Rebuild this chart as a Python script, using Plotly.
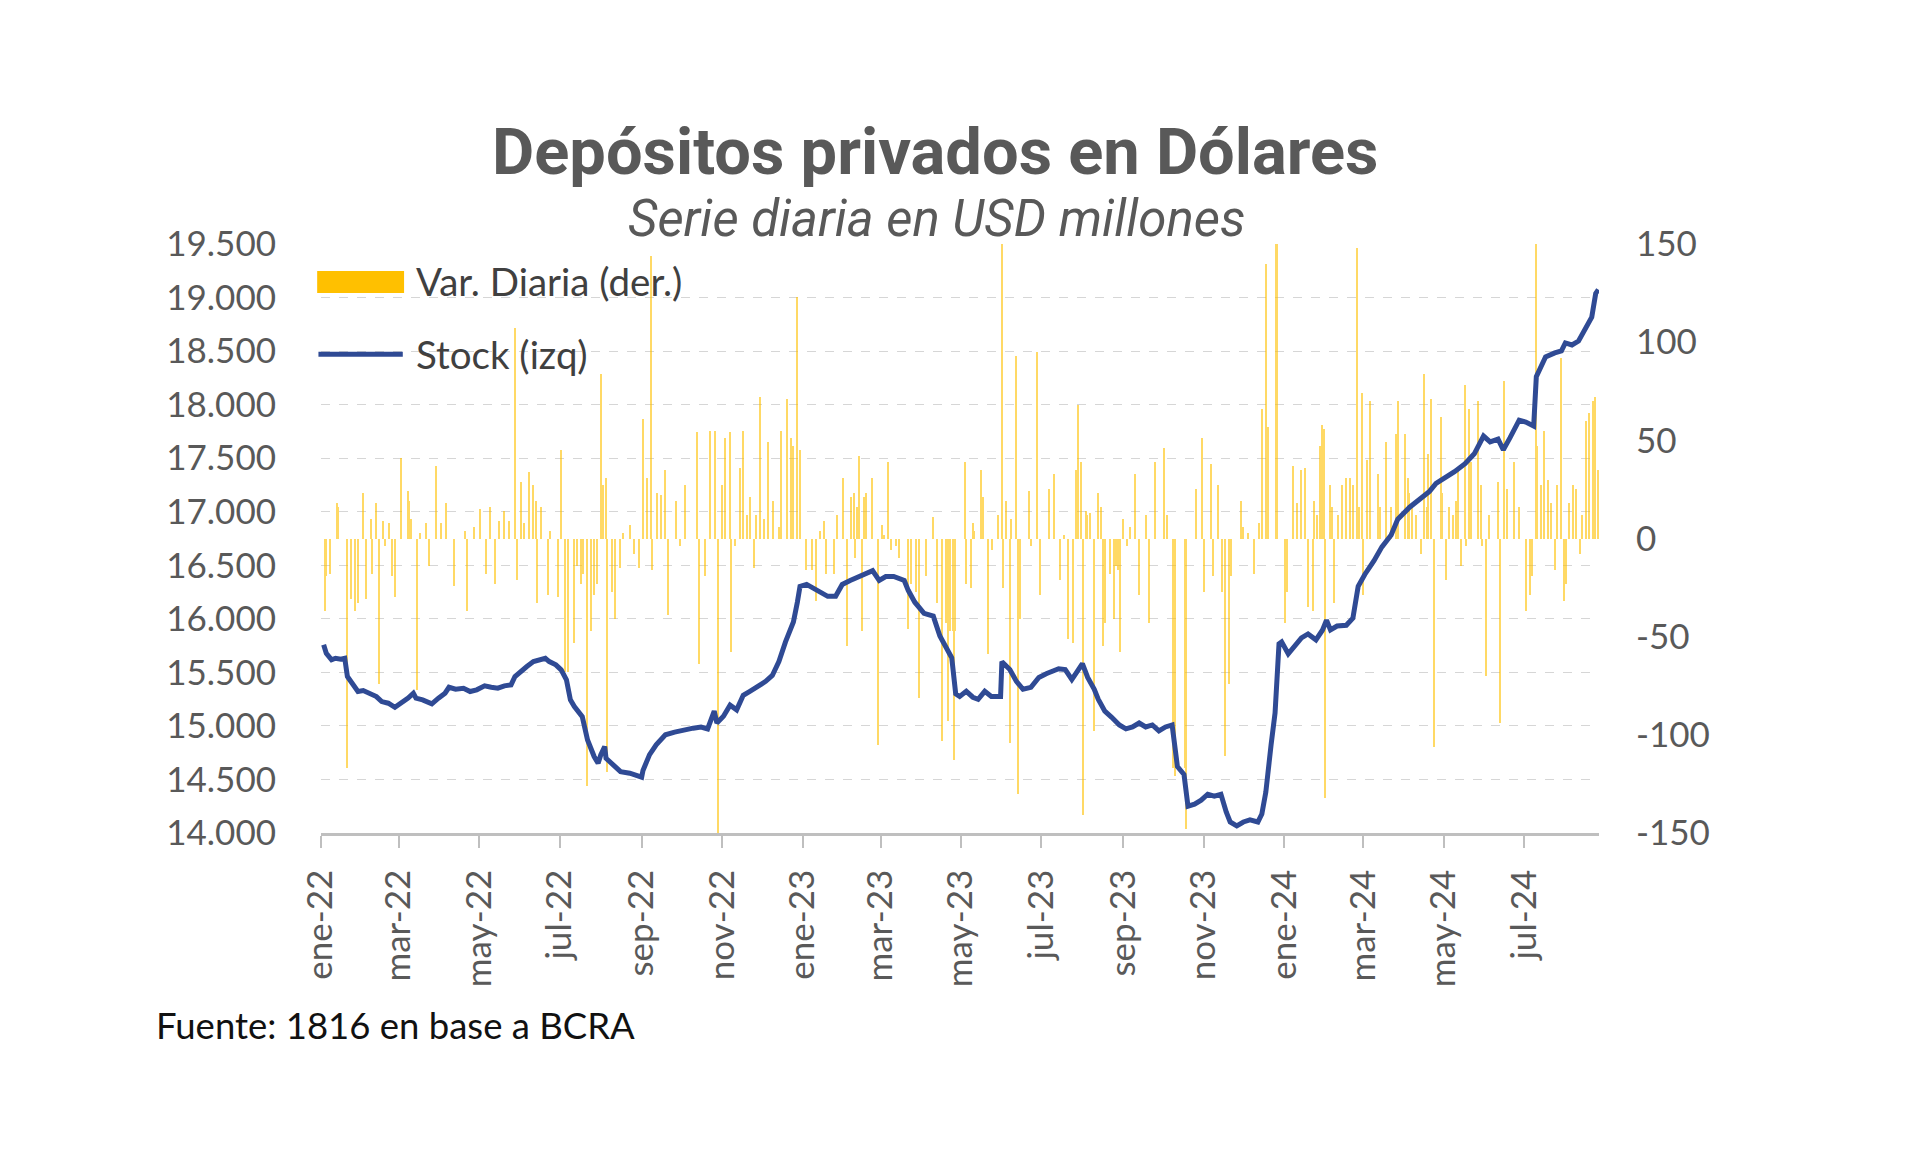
import plotly.graph_objects as go

# ---------------- data ----------------
stock_dates = [
    "2022-01-03","2022-01-05","2022-01-09","2022-01-12","2022-01-16","2022-01-19","2022-01-21","2022-01-25",
    "2022-01-29","2022-02-02","2022-02-07","2022-02-12","2022-02-16","2022-02-21","2022-02-26","2022-03-03",
    "2022-03-08","2022-03-12","2022-03-14","2022-03-19","2022-03-26","2022-03-31","2022-04-05","2022-04-08",
    "2022-04-13","2022-04-19","2022-04-24","2022-04-29","2022-05-05","2022-05-10","2022-05-15","2022-05-20",
    "2022-05-25","2022-05-28","2022-06-01","2022-06-06","2022-06-11","2022-06-16","2022-06-20","2022-06-23",
    "2022-06-28","2022-07-02","2022-07-06","2022-07-09","2022-07-12","2022-07-18","2022-07-22","2022-07-27",
    "2022-07-30","2022-08-01","2022-08-04","2022-08-05","2022-08-10","2022-08-16","2022-08-23","2022-08-29",
    "2022-09-01","2022-09-02","2022-09-07","2022-09-12","2022-09-19","2022-09-26","2022-10-03","2022-10-10",
    "2022-10-16","2022-10-21","2022-10-26","2022-10-28","2022-11-02","2022-11-07","2022-11-12","2022-11-17",
    "2022-11-22","2022-11-29","2022-12-04","2022-12-09","2022-12-14","2022-12-19","2022-12-25","2022-12-28",
    "2022-12-30","2023-01-04","2023-01-09","2023-01-14","2023-01-20","2023-01-26","2023-01-31","2023-02-06",
    "2023-02-13","2023-02-18","2023-02-23","2023-02-28","2023-03-05","2023-03-11","2023-03-19","2023-03-22",
    "2023-03-27","2023-04-03","2023-04-10","2023-04-15","2023-04-20","2023-04-24","2023-04-27","2023-04-30",
    "2023-05-05","2023-05-10","2023-05-14","2023-05-19","2023-05-24","2023-05-31","2023-06-01","2023-06-07",
    "2023-06-12","2023-06-17","2023-06-23","2023-06-29","2023-07-05","2023-07-14","2023-07-19","2023-07-24",
    "2023-07-27","2023-08-01","2023-08-05","2023-08-10","2023-08-13","2023-08-18","2023-08-23","2023-08-29",
    "2023-09-03","2023-09-08","2023-09-13","2023-09-18","2023-09-23","2023-09-28","2023-10-03","2023-10-08",
    "2023-10-12","2023-10-17","2023-10-20","2023-10-25","2023-10-30","2023-11-04","2023-11-09","2023-11-14",
    "2023-11-18","2023-11-21","2023-11-26","2023-12-01","2023-12-06","2023-12-12","2023-12-15","2023-12-18",
    "2023-12-22","2023-12-25","2023-12-28","2023-12-30","2024-01-04","2024-01-09","2024-01-14","2024-01-19",
    "2024-01-25","2024-01-30","2024-02-02","2024-02-05","2024-02-10","2024-02-17","2024-02-22","2024-02-26",
    "2024-03-02","2024-03-09","2024-03-15","2024-03-22","2024-03-27","2024-04-05","2024-04-13","2024-04-20",
    "2024-04-25","2024-04-30","2024-05-09","2024-05-17","2024-05-24","2024-05-31","2024-06-05","2024-06-11",
    "2024-06-15","2024-06-20","2024-06-27","2024-07-02","2024-07-08","2024-07-10","2024-07-17","2024-07-24",
    "2024-07-29","2024-08-01","2024-08-06","2024-08-11","2024-08-16","2024-08-21","2024-08-24","2024-08-26",
]
stock_values = [
    15757, 15679, 15617, 15632, 15623, 15632, 15461, 15399,
    15321, 15330, 15305, 15274, 15227, 15212, 15174, 15212,
    15259, 15305, 15259, 15243, 15206, 15259, 15305, 15361,
    15343, 15352, 15321, 15337, 15374, 15361, 15352, 15374,
    15383, 15461, 15508, 15555, 15601, 15623, 15632, 15601,
    15570, 15523, 15430, 15243, 15181, 15087, 14869, 14714,
    14651, 14729, 14807, 14698, 14636, 14573, 14558, 14527,
    14521, 14584, 14732, 14824, 14917, 14942, 14965, 14979,
    14990, 14972, 15138, 15027, 15090, 15194, 15150, 15286,
    15323, 15379, 15416, 15471, 15600, 15785, 15970, 16155,
    16303, 16321, 16284, 16247, 16210, 16210, 16321, 16358,
    16395, 16413, 16450, 16358, 16395, 16395, 16358, 16266,
    16155, 16051, 16025, 15840, 15730, 15637, 15300, 15275,
    15323, 15268, 15249, 15323, 15275, 15275, 15600, 15526,
    15416, 15342, 15360, 15453, 15489, 15534, 15526, 15434,
    15489, 15582, 15453, 15342, 15249, 15138, 15083, 15009,
    14972, 14990, 15027, 14990, 15009, 14953, 14990, 15009,
    14621, 14547, 14251, 14270, 14307, 14362, 14344, 14362,
    14196, 14103, 14067, 14103, 14122, 14103, 14177, 14381,
    14824, 15120, 15767, 15785, 15674, 15748, 15822, 15859,
    15804, 15896, 15988, 15896, 15933, 15940, 16007, 16303,
    16414, 16543, 16672, 16783, 16931, 17042, 17116, 17190,
    17264, 17301, 17374, 17448, 17541, 17707, 17652, 17678,
    17578, 17689, 17855, 17837, 17800, 18262, 18446, 18483,
    18502, 18576, 18557, 18594, 18705, 18816, 19038, 19075,
]

var_dates = [
    "2022-01-04","2022-01-05","2022-01-08","2022-01-13","2022-01-14","2022-01-21","2022-01-24","2022-01-27",
    "2022-01-29","2022-02-02","2022-02-04","2022-02-08","2022-02-09","2022-02-12","2022-02-14","2022-02-17",
    "2022-02-19","2022-02-22","2022-02-24","2022-02-26","2022-03-03","2022-03-08","2022-03-09","2022-03-10",
    "2022-03-15","2022-03-17","2022-03-22","2022-03-24","2022-03-29","2022-04-02","2022-04-06","2022-04-12",
    "2022-04-20","2022-04-22","2022-04-27","2022-05-02","2022-05-06","2022-05-09","2022-05-13","2022-05-16",
    "2022-05-20","2022-05-24","2022-05-28","2022-05-30","2022-06-02","2022-06-04","2022-06-08","2022-06-11",
    "2022-06-13","2022-06-14","2022-06-17","2022-06-22","2022-06-24","2022-06-30","2022-07-02","2022-07-05",
    "2022-07-07","2022-07-12",
    "2022-07-14","2022-07-17","2022-07-19","2022-07-22","2022-07-25","2022-07-27","2022-07-29","2022-08-01",
    "2022-08-03","2022-08-05","2022-08-06","2022-08-10","2022-08-12","2022-08-16","2022-08-18","2022-08-23",
    "2022-08-26","2022-08-30","2022-09-02","2022-09-05","2022-09-08","2022-09-09","2022-09-13","2022-09-16",
    "2022-09-19","2022-09-21","2022-09-27","2022-09-30","2022-10-04","2022-10-13","2022-10-15","2022-10-19",
    "2022-10-23","2022-10-27","2022-10-29","2022-11-01","2022-11-03","2022-11-07","2022-11-08","2022-11-11",
    "2022-11-15","2022-11-17","2022-11-20","2022-11-22","2022-11-25","2022-11-27","2022-11-30","2022-12-03",
    "2022-12-06","2022-12-10","2022-12-14","2022-12-16","2022-12-20","2022-12-23","2022-12-25","2022-12-28",
    "2022-12-30","2023-01-04","2023-01-08","2023-01-11","2023-01-14","2023-01-17","2023-01-19",
    "2023-01-25","2023-01-27","2023-02-01","2023-02-04","2023-02-07","2023-02-09","2023-02-10","2023-02-11",
    "2023-02-13","2023-02-15","2023-02-17","2023-02-18","2023-02-23","2023-02-27","2023-03-02","2023-03-04",
    "2023-03-07","2023-03-09","2023-03-13","2023-03-15","2023-03-22","2023-03-24","2023-03-28","2023-03-30",
    "2023-04-05","2023-04-10","2023-04-13","2023-04-17","2023-04-20","2023-04-21","2023-04-23","2023-04-25",
    "2023-04-26","2023-04-27","2023-05-04","2023-05-05","2023-05-09","2023-05-10","2023-05-11","2023-05-16",
    "2023-05-18","2023-05-22","2023-05-25","2023-05-29","2023-06-01","2023-06-02","2023-06-04","2023-06-07",
    "2023-06-08","2023-06-12","2023-06-13","2023-06-15","2023-06-22","2023-06-23","2023-06-28","2023-06-30",
    "2023-07-07","2023-07-11","2023-07-15","2023-07-18","2023-07-21","2023-07-25","2023-07-27","2023-07-29",
    "2023-07-31","2023-08-02","2023-08-04","2023-08-05",
    "2023-08-07","2023-08-10","2023-08-13","2023-08-15","2023-08-17","2023-08-18","2023-08-22","2023-08-25",
    "2023-08-27","2023-08-28","2023-08-30","2023-09-01","2023-09-04","2023-09-06","2023-09-10","2023-09-13",
    "2023-09-18","2023-09-21","2023-09-25","2023-10-02","2023-10-04","2023-10-09","2023-10-10","2023-10-18",
    "2023-10-19","2023-10-26","2023-10-31","2023-11-01","2023-11-07","2023-11-08","2023-11-12","2023-11-15",
    "2023-11-17","2023-11-20","2023-11-22","2023-11-29","2023-12-01","2023-12-05","2023-12-09","2023-12-13",
    "2023-12-15","2023-12-18","2023-12-20","2023-12-26","2023-12-27",
    "2024-01-02","2024-01-03","2024-01-08","2024-01-11","2024-01-14","2024-01-17","2024-01-19","2024-01-23",
    "2024-01-24","2024-01-26","2024-01-28","2024-01-30","2024-01-31","2024-02-01","2024-02-05","2024-02-06",
    "2024-02-08","2024-02-11",
    "2024-02-14","2024-02-17","2024-02-20","2024-02-22","2024-02-25","2024-02-27","2024-02-29","2024-03-01",
    "2024-03-04","2024-03-06","2024-03-12","2024-03-14","2024-03-18","2024-03-22","2024-03-26","2024-03-27",
    "2024-04-02","2024-04-04","2024-04-05","2024-04-07","2024-04-10","2024-04-14","2024-04-16","2024-04-18",
    "2024-04-19","2024-04-21","2024-04-24","2024-04-29","2024-04-30","2024-05-03","2024-05-05","2024-05-08",
    "2024-05-10","2024-05-12","2024-05-14","2024-05-17","2024-05-18","2024-05-20","2024-05-22","2024-05-27",
    "2024-05-29","2024-05-30","2024-06-02","2024-06-04","2024-06-11","2024-06-13","2024-06-16","2024-06-18",
    "2024-06-23","2024-06-27","2024-07-02","2024-07-05","2024-07-07","2024-07-10","2024-07-11","2024-07-14",
    "2024-07-16","2024-07-19","2024-07-21","2024-07-24","2024-07-26","2024-07-29","2024-07-31","2024-08-02",
    "2024-08-04","2024-08-07","2024-08-09","2024-08-12","2024-08-14","2024-08-17","2024-08-19","2024-08-22",
    "2024-08-24","2024-08-26",
]
var_values = [
    -37, -19, -18, 18, 16, -117, -31, -37,
    -33, 23, -31, 10, -18, 18, -74, 9,
    -4, 8, -19, -30, 41, 24, 19, 10,
    -77, 3, 8, -14, 37, 8, 18, -24,
    4, -37, 6, 15, -18, 16, -23, 9,
    14, 9, 107, -21, 29, 8, 34, 27,
    19, -33, 16, -29, 4, -30, 45, -68,
    -68, -53,
    -14, -23, -18, -126, -47, -29, -23, 84,
    27, 31, -119, -27, -41, -15, 3, 7,
    -8, -15, 61, 31, 144, -16, 23, 22,
    35, -39, 19, -4, 27, 54, -64, -19,
    55, 55, -150, 27, 51, 54, -58, -4,
    36, 55, 12, 21, -15, 12, 72, 10,
    49, 19, 6, 55, 71, 51, 47, 123,
    45, -16, -16, -32, 4, 9, -18,
    -18, 12, 31, -55, 21, 23, -10, 16,
    42, -47, 21, 23, 31, -105, 7, 2,
    39, -6, -4, -10, -46, -23, -27, -81,
    -19, 11, -33, -103, -43, -93, -47, -47,
    -113, -47, 39, -23, -25, 8, 4, 35,
    21, -59, -6, 12, 150, -25, 19, -104,
    10, 93, -130, -41, 24, -4, 95, -29,
    25, 33, -21, 2, -51, -53, 35, 68,
    39, -141, 14, 12,
    13, -98, 23, 16, -55, -43, -18, -41,
    -14, -16, -58, 10, -4, 6, 33, -29,
    12, -43, 39, 46, 12, -117, -121, -117,
    -148, 25, 51, -27, 38, -19, 27, -27,
    -111, -74, -19, 19, 6, 3, -18, 8,
    66, 140, 57, 150, 150,
    -43, -27, 37, 18, 35, 36, -35, -37,
    19, 12, 47, 58, 56, -132, 27, 16,
    -33, 12,
    27, 31, 31, 27, 148, 16, 74, -29,
    40, 70, 33, 16, 49, 16, 53, 70,
    53, 31, 23, 16, 12, -8, 84, 16,
    43, 71, -106, 62, 23, -21, 16, 12,
    19, 35, -14, 78, -4, 66, 39, 70,
    27, -4, -70, 12, 29, -94, 80, 25,
    39, 16, -37, -29, -19, 150, 47, 27,
    55, 30, 18, -16, 27, 92, -32, -23,
    18, 27, 25, -8, 12, 60, 64, 70,
    72, 35,
]

x_tick_dates = ["2022-01-01","2022-03-01","2022-05-01","2022-07-01","2022-09-01","2022-11-01",
                "2023-01-01","2023-03-01","2023-05-01","2023-07-01","2023-09-01","2023-11-01",
                "2024-01-01","2024-03-01","2024-05-01","2024-07-01"]
x_tick_labels = ["ene-22","mar-22","may-22","jul-22","sep-22","nov-22",
                 "ene-23","mar-23","may-23","jul-23","sep-23","nov-23",
                 "ene-24","mar-24","may-24","jul-24"]
right_tick_vals = [-150, -100, -50, 0, 50, 100, 150]
right_tick_text = ["-150", "-100", "-50", "0", "50", "100", "150"]

# ---------------- styling ----------------
GOLD = "#FFC000"
NAVY = "#2F4A94"
GRAY_TXT = "#595959"
TICK_FONT = dict(family="Lato, Open Sans, sans-serif", size=35, color=GRAY_TXT)

fig = go.Figure()
fig.add_trace(go.Bar(
    x=var_dates, y=var_values, name="Var. Diaria (der.)",
    marker=dict(color=GOLD, line=dict(width=0)), opacity=0.6,
    width=86400000 * 1.1, yaxis="y", showlegend=False,
))
fig.add_trace(go.Scatter(
    x=stock_dates, y=stock_values, name="Stock (izq)", mode="lines",
    line=dict(color=NAVY, width=5), yaxis="y2", showlegend=False,
))

fig.update_layout(
    width=1920, height=1173, autosize=False,
    margin=dict(l=321, r=321, t=244, b=340),
    paper_bgcolor="white", plot_bgcolor="white",
    separators=",.",
    bargap=0,
    xaxis=dict(
        type="date", range=["2022-01-01", "2024-08-26 12:00"],
        tickvals=x_tick_dates, ticktext=x_tick_labels, tickangle=-90,
        tickfont=TICK_FONT, ticks="outside", ticklen=12, tickwidth=2,
        tickcolor="#BFBFBF", showline=True, linecolor="#BFBFBF", linewidth=2.5,
        showgrid=False, zeroline=False, ticklabelstandoff=8,
    ),
    yaxis=dict(
        range=[-150, 150], side="right", tickvals=right_tick_vals,
        ticktext=right_tick_text, tickfont=TICK_FONT, showgrid=False,
        zeroline=False, showline=False, ticks="", ticklabelstandoff=36,
    ),
    yaxis2=dict(
        range=[14000, 19500], side="left", overlaying="y", anchor="x",
        dtick=500, tickformat=",d", tickfont=TICK_FONT,
        showgrid=True, gridcolor="#D6D6D6", gridwidth=1.2, griddash="dash",
        zeroline=False, showline=False, ticks="", ticklabelstandoff=44,
    ),
)

# title / subtitle
fig.add_annotation(
    text="<b>Depósitos privados en Dólares</b>", xref="paper", yref="paper",
    x=0.481, y=1.156, xanchor="center", yanchor="middle", showarrow=False,
    font=dict(family="Roboto, sans-serif", size=65, color=GRAY_TXT),
)
fig.add_annotation(
    text="<i>Serie diaria en USD millones</i>", xref="paper", yref="paper",
    x=0.482, y=1.0425, xanchor="center", yanchor="middle", showarrow=False,
    font=dict(family="Roboto, sans-serif", size=51, color=GRAY_TXT),
)

# custom legend
fig.add_shape(type="rect", xref="paper", yref="paper",
              x0=-0.003, x1=0.065, y0=0.917, y1=0.954,
              fillcolor=GOLD, line=dict(width=0))
fig.add_annotation(text="Var. Diaria (der.)", xref="paper", yref="paper",
                   x=0.0728, y=0.937, xanchor="left", yanchor="middle", showarrow=False,
                   font=dict(family="Lato, sans-serif", size=38.5, color="#404040"))
fig.add_shape(type="line", xref="paper", yref="paper",
              x0=-0.002, x1=0.064, y0=0.813, y1=0.813,
              line=dict(color=NAVY, width=5))
fig.add_annotation(text="Stock (izq)", xref="paper", yref="paper",
                   x=0.0728, y=0.813, xanchor="left", yanchor="middle", showarrow=False,
                   font=dict(family="Lato, sans-serif", size=38.5, color="#404040"))

# source note
fig.add_annotation(text="Fuente: 1816 en base a BCRA", xref="paper", yref="paper",
                   x=-0.131, y=-0.3265, xanchor="left", yanchor="middle", showarrow=False,
                   font=dict(family="Lato, sans-serif", size=36.5, color="#111111"))

fig.write_html("out.html")
